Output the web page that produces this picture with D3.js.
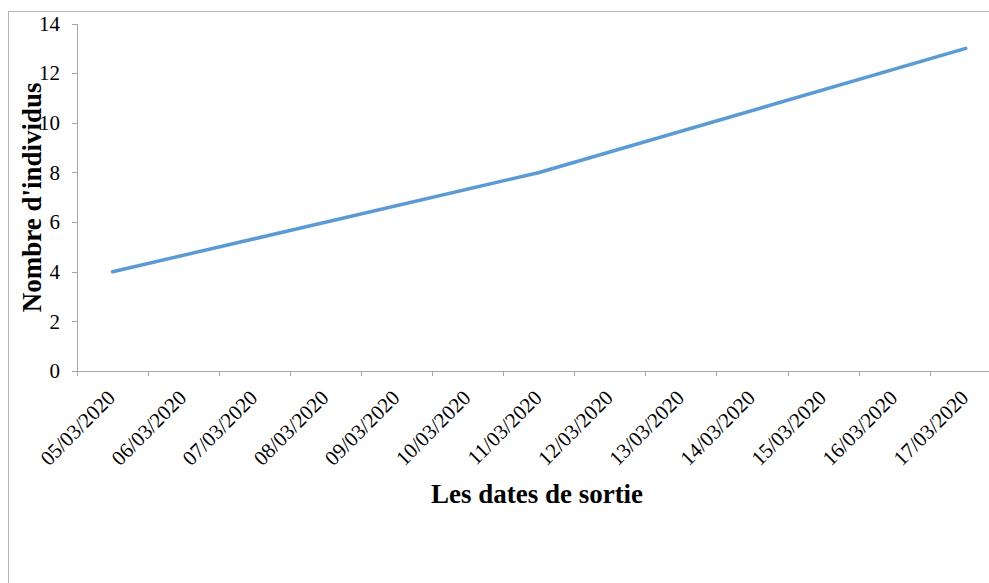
<!DOCTYPE html>
<html>
<head>
<meta charset="utf-8">
<script src="https://cdn.jsdelivr.net/npm/d3@7"></script>
<style>
  html, body { margin: 0; padding: 0; background: #fff; }
  svg { display: block; }
</style>
</head>
<body>
<svg id="chart" width="989" height="583"></svg>
<script>
// ---- data ----
const categories = ["05/03/2020","06/03/2020","07/03/2020","08/03/2020","09/03/2020","10/03/2020","11/03/2020","12/03/2020","13/03/2020","14/03/2020","15/03/2020","16/03/2020","17/03/2020"];
const obsDates = ["05/03/2020", "11/03/2020", "17/03/2020"];
const obsValues = [4, 8, 13];
const yTicks = [0, 2, 4, 6, 8, 10, 12, 14];
const yTitle = "Nombre d'individus";
const xTitle = "Les dates de sortie";

(function () {
// ---- layout ----
const svg = d3.select("#chart");
const plotLeft = 77, plotTop = 23.6, plotBottom = 371, step = 71.1;
const axisColor = "#a6a6a6";
const font = "'Liberation Serif', 'Times New Roman', serif";

// chart border
svg.append("rect")
  .attr("x", 8.5).attr("y", 11.5)
  .attr("width", 1100).attr("height", 700)
  .attr("fill", "none").attr("stroke", "#b3b3b3").attr("stroke-width", 1);

const x = d3.scaleBand().domain(categories).range([plotLeft, plotLeft + step * categories.length]).padding(0);
const y = d3.scaleLinear().domain([0, 14]).range([plotBottom, plotTop]);

// y axis
const yAxis = svg.append("g").attr("transform", `translate(${plotLeft},0)`)
  .call(d3.axisLeft(y).tickValues(yTicks).tickSize(5).tickPadding(12).tickFormat(d3.format("d")));
yAxis.selectAll("path, line").attr("stroke", axisColor).attr("shape-rendering", "crispEdges");
yAxis.selectAll("text").attr("font-family", font).attr("font-size", 21).attr("fill", "#000");

// x axis line
svg.append("line")
  .attr("x1", plotLeft).attr("x2", plotLeft + step * categories.length)
  .attr("y1", plotBottom).attr("y2", plotBottom)
  .attr("stroke", axisColor).attr("shape-rendering", "crispEdges");

// x ticks at category boundaries
const boundaries = categories.map(c => x(c)).concat([x(categories[categories.length - 1]) + x.bandwidth()]);
svg.append("g").selectAll("line").data(boundaries).join("line")
  .attr("x1", d => d).attr("x2", d => d)
  .attr("y1", plotBottom).attr("y2", plotBottom + 5)
  .attr("stroke", axisColor).attr("shape-rendering", "crispEdges");

// x tick labels
svg.append("g").selectAll("text").data(categories).join("text")
  .attr("transform", d => `translate(${x(d) + x.bandwidth() / 2 + 4},${plotBottom + 28}) rotate(-45)`)
  .attr("text-anchor", "end")
  .attr("font-family", font).attr("font-size", 21).attr("fill", "#000")
  .text(d => d);

// line
const pts = obsDates.map((d, i) => ({ d, v: obsValues[i] }));
svg.append("path").datum(pts)
  .attr("fill", "none")
  .attr("stroke", "#5b9bd5")
  .attr("stroke-width", 3.5)
  .attr("stroke-linecap", "round")
  .attr("stroke-linejoin", "round")
  .attr("d", d3.line().x(p => x(p.d) + x.bandwidth() / 2).y(p => y(p.v)));

// titles
svg.append("text")
  .attr("transform", `translate(41,${(plotTop + plotBottom) / 2}) rotate(-90)`)
  .attr("text-anchor", "middle")
  .attr("font-family", font).attr("font-weight", "bold").attr("font-size", 27).attr("fill", "#000")
  .text(yTitle);

svg.append("text")
  .attr("x", 537).attr("y", 503)
  .attr("text-anchor", "middle")
  .attr("font-family", font).attr("font-weight", "bold").attr("font-size", 27).attr("fill", "#000")
  .text(xTitle);
})();
</script>
</body>
</html>
